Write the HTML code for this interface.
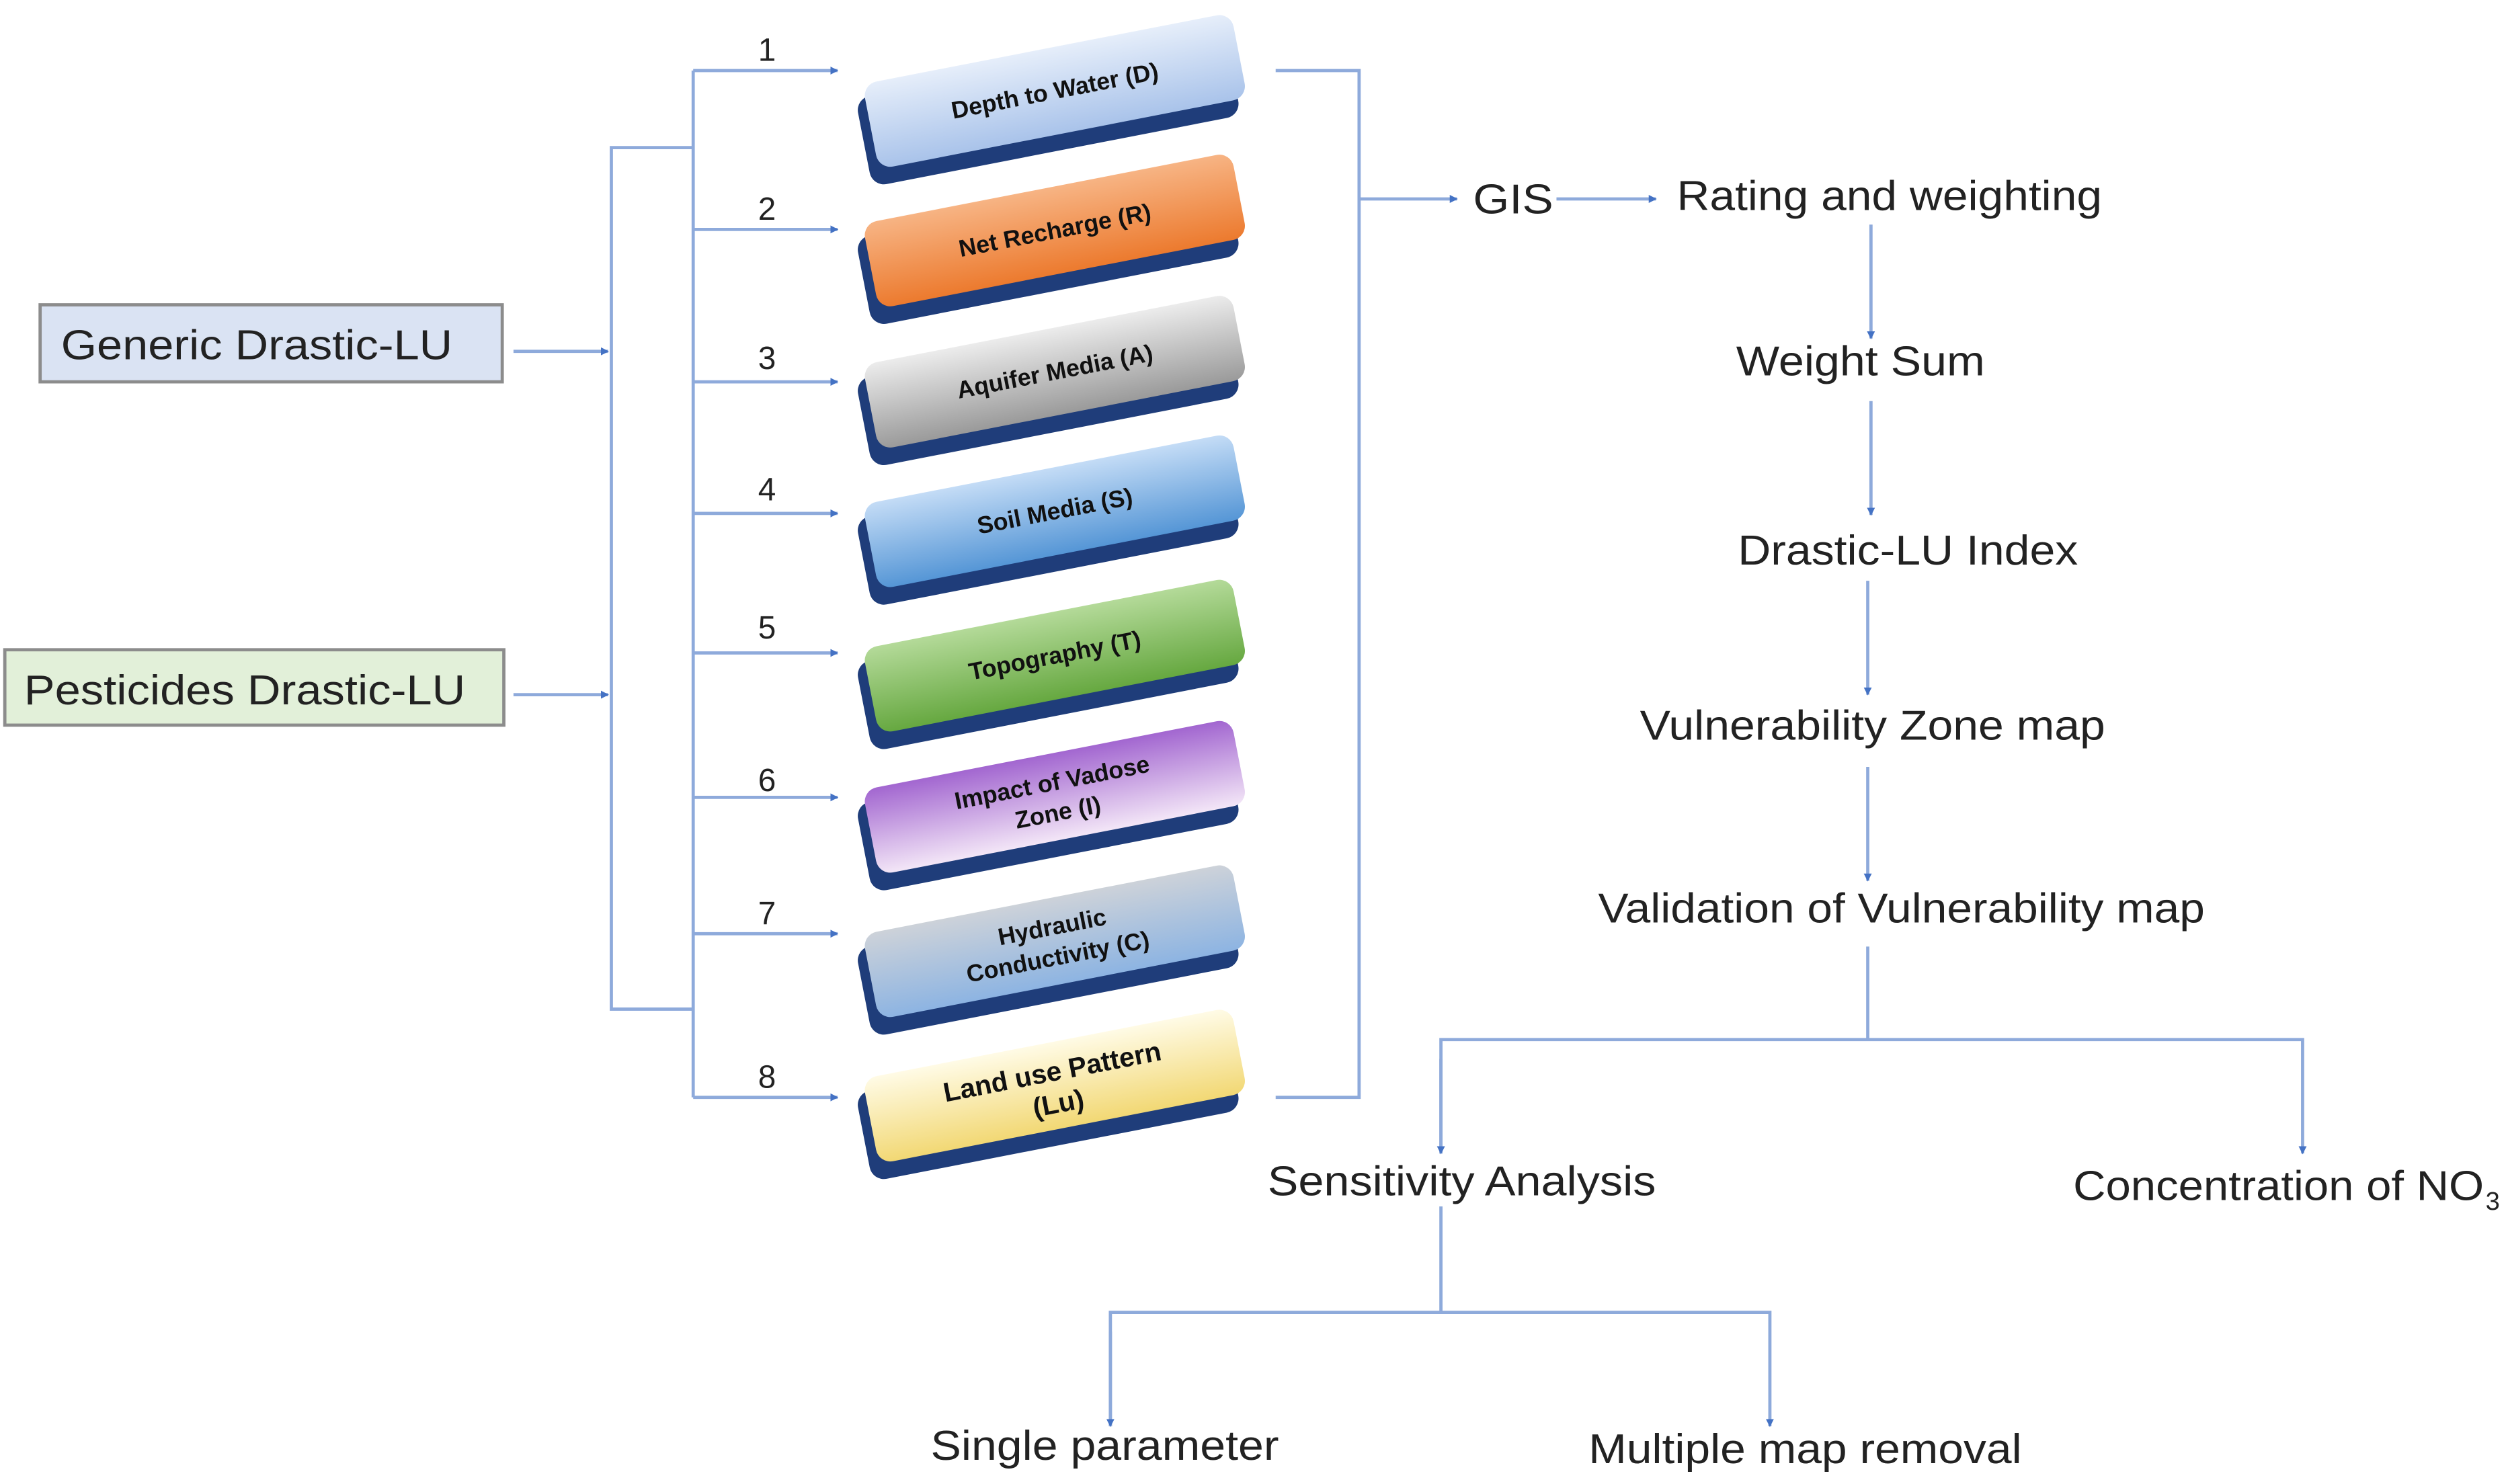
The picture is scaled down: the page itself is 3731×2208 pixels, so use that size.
<!DOCTYPE html>
<html><head><meta charset="utf-8"><style>html,body{margin:0;padding:0;background:#fff}svg{display:block}</style></head>
<body>
<svg width="3731" height="2208" viewBox="0 0 1563 925" preserveAspectRatio="none" xmlns="http://www.w3.org/2000/svg" font-family="Liberation Sans, Arial, sans-serif">
<defs>
<marker id="a" viewBox="0 0 10 10" refX="9" refY="5" markerWidth="5" markerHeight="5" orient="auto" markerUnits="userSpaceOnUse"><path d="M0,0 L10,5 L0,10 z" fill="#4472c4"/></marker>
<linearGradient id="g1" x1="0" y1="0" x2="0" y2="1"><stop offset="0" stop-color="#e6eefa"/><stop offset="1" stop-color="#a9c3ea"/></linearGradient>
<linearGradient id="g2" x1="0" y1="0" x2="0" y2="1"><stop offset="0" stop-color="#f7b484"/><stop offset="1" stop-color="#ec7a2e"/></linearGradient>
<linearGradient id="g3" x1="0" y1="0" x2="0" y2="1"><stop offset="0" stop-color="#ececec"/><stop offset="1" stop-color="#9a9a9a"/></linearGradient>
<linearGradient id="g4" x1="0" y1="0" x2="0" y2="1"><stop offset="0" stop-color="#c4dcf6"/><stop offset="1" stop-color="#5596d6"/></linearGradient>
<linearGradient id="g5" x1="0" y1="0" x2="0" y2="1"><stop offset="0" stop-color="#b4da99"/><stop offset="1" stop-color="#66a840"/></linearGradient>
<linearGradient id="g6" x1="0" y1="0" x2="0" y2="1"><stop offset="0" stop-color="#a266d0"/><stop offset="1" stop-color="#f3e6f7"/></linearGradient>
<linearGradient id="g7" x1="0" y1="0" x2="0" y2="1"><stop offset="0" stop-color="#cdd2d9"/><stop offset="1" stop-color="#8db4e2"/></linearGradient>
<linearGradient id="g8" x1="0" y1="0" x2="0" y2="1"><stop offset="0" stop-color="#fffbe6"/><stop offset="1" stop-color="#f2d874"/></linearGradient>
</defs>

<rect x="25" y="190" width="288" height="48" fill="#dae3f3" stroke="#8c8c8c" stroke-width="2"/>
<text x="38" y="224" font-size="26" fill="#222" textLength="244" lengthAdjust="spacingAndGlyphs">Generic Drastic-LU</text>
<rect x="3" y="405" width="311" height="47" fill="#e2f0d9" stroke="#8c8c8c" stroke-width="2"/>
<text x="15" y="439" font-size="26" fill="#222" textLength="275" lengthAdjust="spacingAndGlyphs">Pesticides Drastic-LU</text>

<g stroke="#8eaadb" stroke-width="2" fill="none">
<line x1="320" y1="219" x2="379" y2="219" marker-end="url(#a)"/>
<line x1="320" y1="433" x2="379" y2="433" marker-end="url(#a)"/>
<polyline points="432,92 381,92 381,629 432,629"/>
<line x1="432" y1="44" x2="432" y2="684"/>
<line x1="432" y1="44" x2="522" y2="44" marker-end="url(#a)"/>
<line x1="432" y1="143" x2="522" y2="143" marker-end="url(#a)"/>
<line x1="432" y1="238" x2="522" y2="238" marker-end="url(#a)"/>
<line x1="432" y1="320" x2="522" y2="320" marker-end="url(#a)"/>
<line x1="432" y1="407" x2="522" y2="407" marker-end="url(#a)"/>
<line x1="432" y1="497" x2="522" y2="497" marker-end="url(#a)"/>
<line x1="432" y1="582" x2="522" y2="582" marker-end="url(#a)"/>
<line x1="432" y1="684" x2="522" y2="684" marker-end="url(#a)"/>
<polyline points="795,44 847,44 847,684 795,684"/>
<line x1="847" y1="124" x2="908" y2="124" marker-end="url(#a)"/>
<line x1="970" y1="124" x2="1032" y2="124" marker-end="url(#a)"/>
<line x1="1166" y1="140" x2="1166" y2="211" marker-end="url(#a)"/>
<line x1="1166" y1="250" x2="1166" y2="321" marker-end="url(#a)"/>
<line x1="1164" y1="362" x2="1164" y2="433" marker-end="url(#a)"/>
<line x1="1164" y1="478" x2="1164" y2="549" marker-end="url(#a)"/>
<line x1="1164" y1="590" x2="1164" y2="648"/>
<polyline points="898,719 898,648 1435,648 1435,719" marker-end="url(#a)"/>
<line x1="898" y1="660" x2="898" y2="719" marker-end="url(#a)"/>
<line x1="898" y1="752" x2="898" y2="818"/>
<polyline points="692,889 692,818 1103,818 1103,889" marker-end="url(#a)"/>
<line x1="692" y1="830" x2="692" y2="889" marker-end="url(#a)"/>
</g>

<g font-size="20" fill="#222" text-anchor="middle">
<text x="478" y="38">1</text><text x="478" y="137">2</text><text x="478" y="230">3</text><text x="478" y="312">4</text>
<text x="478" y="398">5</text><text x="478" y="493">6</text><text x="478" y="576">7</text><text x="478" y="678">8</text>
</g>

<g font-size="15" font-weight="bold" fill="#111" text-anchor="middle">
<g transform="translate(656,60) rotate(-11)"><rect x="-121" y="-22" width="234" height="56" rx="9" fill="#1f3d7a"/><rect x="-115" y="-30" width="234" height="54" rx="9" fill="url(#g1)"/><text x="2" y="2">Depth to Water (D)</text></g>
<g transform="translate(656,147) rotate(-11)"><rect x="-121" y="-22" width="234" height="56" rx="9" fill="#1f3d7a"/><rect x="-115" y="-30" width="234" height="54" rx="9" fill="url(#g2)"/><text x="2" y="2">Net Recharge (R)</text></g>
<g transform="translate(656,235) rotate(-11)"><rect x="-121" y="-22" width="234" height="56" rx="9" fill="#1f3d7a"/><rect x="-115" y="-30" width="234" height="54" rx="9" fill="url(#g3)"/><text x="2" y="2">Aquifer Media (A)</text></g>
<g transform="translate(656,322) rotate(-11)"><rect x="-121" y="-22" width="234" height="56" rx="9" fill="#1f3d7a"/><rect x="-115" y="-30" width="234" height="54" rx="9" fill="url(#g4)"/><text x="2" y="2">Soil Media (S)</text></g>
<g transform="translate(656,412) rotate(-11)"><rect x="-121" y="-22" width="234" height="56" rx="9" fill="#1f3d7a"/><rect x="-115" y="-30" width="234" height="54" rx="9" fill="url(#g5)"/><text x="2" y="2">Topography (T)</text></g>
<g transform="translate(656,500) rotate(-11)"><rect x="-121" y="-22" width="234" height="56" rx="9" fill="#1f3d7a"/><rect x="-115" y="-30" width="234" height="54" rx="9" fill="url(#g6)"/><text x="2" y="-7">Impact of Vadose</text><text x="2" y="12">Zone (I)</text></g>
<g transform="translate(656,590) rotate(-11)"><rect x="-121" y="-22" width="234" height="56" rx="9" fill="#1f3d7a"/><rect x="-115" y="-30" width="234" height="54" rx="9" fill="url(#g7)"/><text x="2" y="-7">Hydraulic</text><text x="2" y="12">Conductivity (C)</text></g>
<g transform="translate(656,680) rotate(-11)" font-size="17"><rect x="-121" y="-22" width="234" height="56" rx="9" fill="#1f3d7a"/><rect x="-115" y="-30" width="234" height="54" rx="9" fill="url(#g8)"/><text x="2" y="-6">Land use Pattern</text><text x="2" y="14">(Lu)</text></g>
</g>

<g font-size="26" fill="#222">
<text x="918" y="133" textLength="50" lengthAdjust="spacingAndGlyphs">GIS</text>
<text x="1045" y="131" textLength="265" lengthAdjust="spacingAndGlyphs">Rating and weighting</text>
<text x="1082" y="234" textLength="155" lengthAdjust="spacingAndGlyphs">Weight Sum</text>
<text x="1083" y="352" textLength="212" lengthAdjust="spacingAndGlyphs">Drastic-LU Index</text>
<text x="1022" y="461" textLength="290" lengthAdjust="spacingAndGlyphs">Vulnerability Zone map</text>
<text x="996" y="575" textLength="378" lengthAdjust="spacingAndGlyphs">Validation of Vulnerability map</text>
<text x="790" y="745" textLength="242" lengthAdjust="spacingAndGlyphs">Sensitivity Analysis</text>
<text x="1292" y="748" textLength="256" lengthAdjust="spacingAndGlyphs">Concentration of NO</text>
<text x="1549" y="754" font-size="16">3</text>
<text x="580" y="910" textLength="217" lengthAdjust="spacingAndGlyphs">Single parameter</text>
<text x="990" y="912" textLength="270" lengthAdjust="spacingAndGlyphs">Multiple map removal</text>
</g>
</svg>
</body></html>
